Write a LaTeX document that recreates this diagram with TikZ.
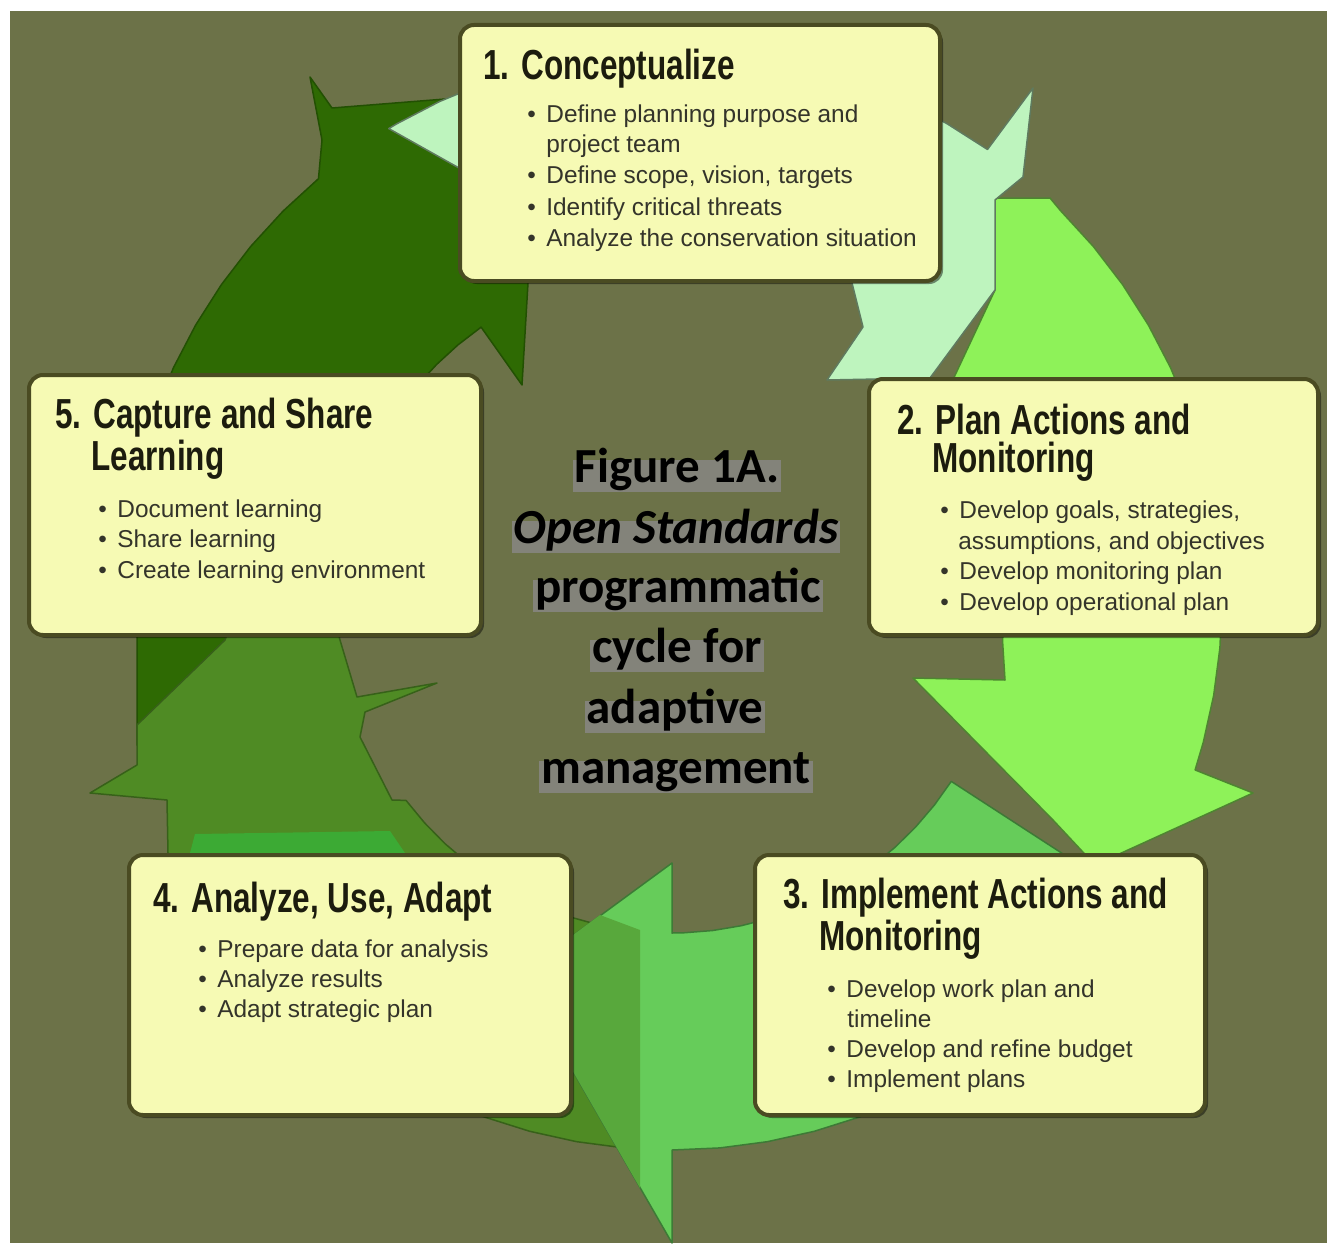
\documentclass[tikz,border=0pt]{standalone}
\usepackage{fontspec}
\setmainfont{Liberation Sans}
\newfontfamily\titlefont{Liberation Sans}[FakeStretch=0.75]
\newfontfamily\capfont{Carlito}
\usetikzlibrary{shadows}
\definecolor{bg}{HTML}{6C7248}
\definecolor{boxfill}{HTML}{F6FAB4}
\definecolor{boxline}{HTML}{4A4B22}
\definecolor{titlecol}{HTML}{1C1C0E}
\definecolor{bulcol}{HTML}{34342A}
\definecolor{hlgray}{HTML}{83837A}
\definecolor{aone}{HTML}{BEF4BE}
\definecolor{atwo}{HTML}{8EF259}
\definecolor{athree}{HTML}{66CC5A}
\definecolor{athreedark}{HTML}{58A83C}
\definecolor{afour}{HTML}{4F8B24}
\definecolor{afourlight}{HTML}{3CAA34}
\definecolor{afive}{HTML}{2E6A03}
\tikzset{
  box/.style={draw=boxline, line width=2pt, fill=boxfill, rounded corners=7pt, inner sep=0pt,
    drop shadow={shadow xshift=1.5pt, shadow yshift=-1.5pt, fill=black, opacity=0.45}},
  ttl/.style={anchor=base west, inner sep=0pt, text=titlecol, align=left,
    font=\titlefont\bfseries\fontsize{21}{19}\selectfont},
  bul/.style={anchor=base west, inner sep=0pt, text=bulcol,
    font=\fontsize{12.2}{14}\selectfont},
  ctr/.style={anchor=base, inner xsep=1pt, inner ysep=0pt, fill=hlgray,
    text height=11pt, text depth=5pt, text=black,
    font=\capfont\bfseries\fontsize{24.5}{29}\selectfont},
  arrowedge/.style={line width=0.75pt, line join=round}
}
\newcommand\myitem[4]{\node[bul] (#1) at (#2,#3) {\makebox[9.5pt][l]{\textbullet}#4};}
\newcommand\mycont[4]{\node[bul] (#1) at (#2,#3) {#4};}
\begin{document}
\begin{tikzpicture}[x=0.5pt,y=-0.5pt]
\useasboundingbox (0,0) rectangle (1327,1247);
\fill[white] (0,0) rectangle (1327,1247);
\fill[bg] (10,11) rectangle (1327,1243);

% arrow 5 (dark green)
\filldraw[fill=afive, draw=afive!75!black, arrowedge] (310,77) -- (332,108) -- (458,98) -- (470,130) -- (528,283) -- (522,385) -- (481,327)
  \foreach \t in {125,130,...,160} {-- ([shift={(672,600)}]-\t:333)}
  -- (330,637) -- (262,745) -- (137,745) -- (137,637) -- (124,560)
  \foreach \t in {175,170,...,130} {-- ([shift={(672,600)}]-\t:550)}
  -- (322,140) -- cycle;

% arrow 4
\filldraw[fill=afour, draw=afour!70!black, arrowedge] ([shift={(672,600)}]-265:550)
  \foreach \t in {260,255,...,210} {-- ([shift={(672,600)}]-\t:550)}
  -- (168,853) -- (167,800) -- (90,793) -- (137,765) -- (137,725) -- (225,640) -- (240,600) -- (330,600) -- (340,640)
  -- (357,697) -- (437,683) -- (365,712) -- (360,737) -- (392,800)
  \foreach \t in {217,222,...,262} {-- ([shift={(672,600)}]-\t:333)}
  -- ([shift={(672,600)}]-265:333) -- cycle;
\fill[afourlight] (195,834) -- (390,831) -- (405,853) -- (190,853) -- cycle;

% arrow 3
\filldraw[fill=athree, draw=athree!60!black, arrowedge] ([shift={(672,600)}]33:333)
  \foreach \t in {38,43,...,88} {-- ([shift={(672,600)}]\t:333)}
  -- ([shift={(672,600)}]90:333) -- (672,863) -- (518,976) -- (672,1243) -- ([shift={(672,600)}]90:550)
  \foreach \t in {85,80,...,35} {-- ([shift={(672,600)}]\t:550)}
  -- ([shift={(672,600)}]33:550) -- cycle;
\fill[athreedark] (518,976) -- (600,915) -- (640,930) -- (640,1188) -- cycle;

% arrow 2
\filldraw[fill=atwo, draw=atwo!55!black, arrowedge] (995,198) -- (1050,198)
  \foreach \t in {-45,-40,...,15} {-- ([shift={(672,600)}]\t:550)}
  -- ([shift={(672,600)}]18:550) -- (1253,793) -- (1095,865) -- (1053,820) -- (913,678) -- (1005,680)
  \foreach \t in {7,2,...,-33} {-- ([shift={(672,600)}]\t:333)}
  -- ([shift={(672,600)}]-36:333) -- (995,290) -- cycle;

% arrow 1 (mint)
\filldraw[fill=aone, draw=aone!50!black, arrowedge] ([shift={(672,600)}]-55:550)
  \foreach \t in {-60,-65,...,-120} {-- ([shift={(672,600)}]\t:550)}
  -- ([shift={(672,600)}]-121:550) -- (639,269) -- (850,275) -- (863,327) -- (827,380) -- (930,378)
  -- (995,290) -- (995,200) -- (1023,177) -- (1033,88) -- cycle;

% boxes
\node[box, minimum width=240pt, minimum height=128pt] (b1) at (700,153) {};
\node[box, minimum width=224.5pt, minimum height=128pt] (b2) at (1093.5,507) {};
\node[box, minimum width=226pt, minimum height=130pt] (b5) at (255,505) {};
\node[box, minimum width=221pt, minimum height=130pt] (b4) at (350,985) {};
\node[box, minimum width=225pt, minimum height=130pt] (b3) at (980,985) {};

% box 1
\node[ttl] (t1) at (483,80) {1. Conceptualize};
\myitem{i11}{527}{122}{Define planning purpose and}
\mycont{i12}{546}{153}{project team}
\myitem{i13}{527}{184}{Define scope, vision, targets}
\myitem{i14}{527}{215}{Identify critical threats}
\myitem{i15}{527}{246}{Analyze the conservation situation}

% box 2 (anchor = baseline of the last title line)
\node[ttl] (t2) at (897,472) {2. Plan Actions and\\\hspace*{17.5pt}Monitoring};
\myitem{i21}{940}{518}{Develop goals, strategies,}
\mycont{i22}{958}{549}{assumptions, and objectives}
\myitem{i23}{940}{579}{Develop monitoring plan}
\myitem{i24}{940}{610}{Develop operational plan}

% box 5
\node[ttl] (t5) at (55,470) {5. Capture and Share\\\hspace*{18pt}Learning};
\myitem{i51}{98}{517}{Document learning}
\myitem{i52}{98}{547}{Share learning}
\myitem{i53}{98}{578}{Create learning environment}

% box 4
\node[ttl] (t4) at (153,912) {4. Analyze, Use, Adapt};
\myitem{i41}{198}{957}{Prepare data for analysis}
\myitem{i42}{198}{987}{Analyze results}
\myitem{i43}{198}{1017}{Adapt strategic plan}

% box 3
\node[ttl] (t3) at (783,950) {3. Implement Actions and\\\hspace*{18pt}Monitoring};
\myitem{i31}{827}{997}{Develop work plan and}
\mycont{i32}{847}{1027}{timeline}
\myitem{i33}{827}{1057}{Develop and refine budget}
\myitem{i34}{827}{1087}{Implement plans}

% centre caption
\node[ctr] (c1) at (677,482) {Figure 1A.};
\node[ctr] (c2) at (676,543) {\itshape Open Standards};
\node[ctr] (c3) at (678,602) {programmatic};
\node[ctr] (c4) at (677,662) {cycle for};
\node[ctr] (c5) at (675,723) {adaptive};
\node[ctr] (c6) at (676,783) {management};
\end{tikzpicture}
\end{document}
